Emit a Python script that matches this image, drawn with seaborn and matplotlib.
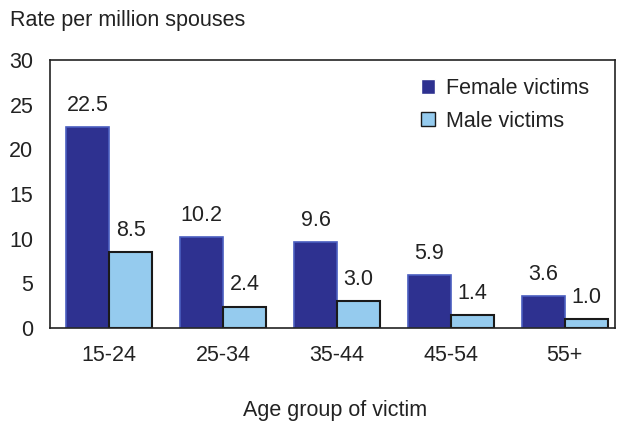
import numpy as np
import pandas as pd
import matplotlib.pyplot as plt
import seaborn as sns

# dados
grupos = ['15-24', '25-34', '35-44', '45-54', '55+']
feminino = [22.5, 10.2, 9.6, 5.9, 3.6]
masculino = [8.5, 2.4, 3.0, 1.4, 1.0]
series = ['Female victims', 'Male victims']
yticks = [0, 5, 10, 15, 20, 25, 30]

cor_fem = '#2e3190'
cor_masc = '#95cbee'
fs = 15.5

sns.set_style('white')
plt.rcParams['font.family'] = ['Liberation Sans', 'DejaVu Sans']

df = pd.DataFrame({
    'grupo': grupos * 2,
    'valor': feminino + masculino,
    'serie': [series[0]] * len(grupos) + [series[1]] * len(grupos),
})

fig = plt.figure(figsize=(6.21, 4.24), dpi=100)
ax = fig.add_axes([0.0805, 0.2264, 0.9095, 0.6321])

sns.barplot(data=df, x='grupo', y='valor', hue='serie', order=grupos,
            hue_order=series, palette=[cor_fem, cor_masc], width=0.755,
            ax=ax, errorbar=None, saturation=1)

# bordas das barras
for bar in ax.containers[0]:
    bar.set_edgecolor('#4a5ec0')
    bar.set_linewidth(1.2)
for bar in ax.containers[1]:
    bar.set_edgecolor('#1a1a1a')
    bar.set_linewidth(1.5)

for c in ax.containers:
    ax.bar_label(c, fmt='%.1f', padding=8, fontsize=fs, color='#222222')

ax.set_xlim(-0.52, 4.44)
ax.set_ylim(0, 30)
ax.set_yticks(yticks)
ax.tick_params(axis='y', direction='in', length=4, width=1, labelsize=fs,
               pad=12, colors='#222222')
ax.tick_params(axis='x', length=0, labelsize=fs, pad=12, colors='#222222')
for s in ax.spines.values():
    s.set_color('#222222')
    s.set_linewidth(1.2)
    s.set_visible(True)

ax.set_xlabel('')
ax.set_ylabel('')
fig.text(0.016, 0.951, 'Rate per million spouses', fontsize=fs, color='#222222',
         ha='left', va='center')
fig.text(0.54, 0.033, 'Age group of victim', fontsize=fs, color='#222222',
         ha='center', va='center')

leg = ax.legend(loc='upper right', frameon=False, fontsize=fs,
                handlelength=0.65, handleheight=0.65, handletextpad=0.5,
                labelspacing=0.55, borderaxespad=0, bbox_to_anchor=(0.97, 0.965))
leg.get_patches()[1].set_edgecolor('#1a1a1a')
for t in leg.get_texts():
    t.set_color('#222222')

fig.savefig('out.png', dpi=100)
